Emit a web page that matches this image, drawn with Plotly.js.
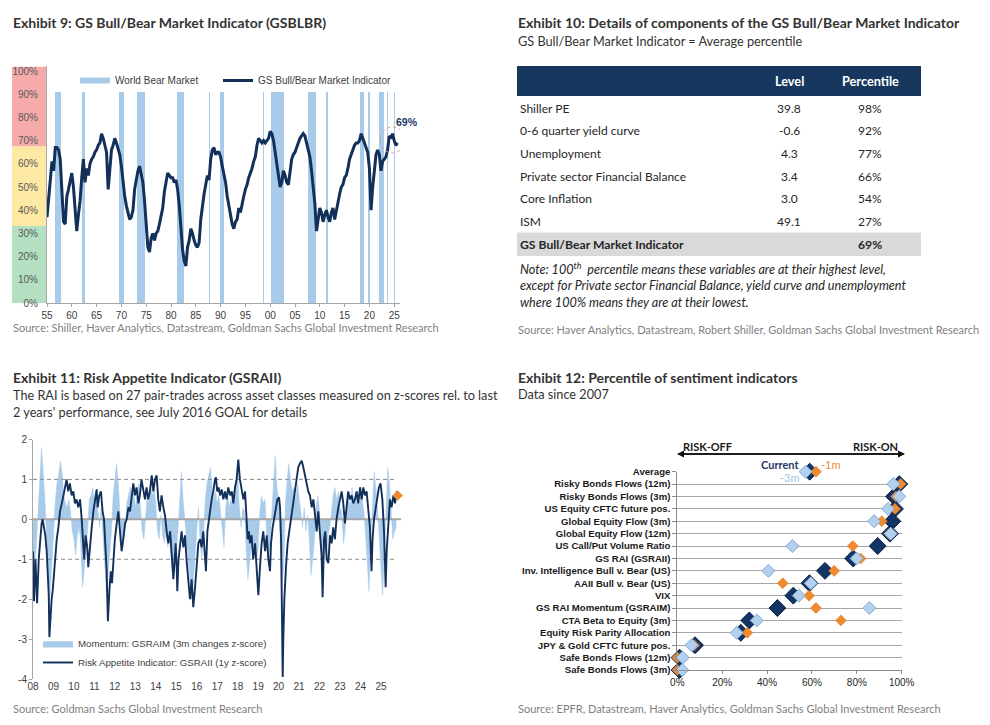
<!DOCTYPE html>
<html><head><meta charset="utf-8">
<script src="https://cdn.plot.ly/plotly-3.0.1.min.js"></script>
<style>html,body{margin:0;padding:0;background:#fff}#chart{width:990px;height:725px}</style>
</head><body><div id="chart"></div>
<script>
// ---------------- Exhibit 9 data ----------------
const bbStartYear = 1955;          // first observation
const bbStepPerYear = 3;           // one observation every 4 months
const bbValues = [
37,46,52,61,57,67,67,66,62,50,
35,34,46,49,52,56,50,38,31,38,
44,54,62,52,58,55,60,62,63,65,
66,68,69,73,71,68,65,49,60,66,
68,71,69,66,64,59,52,46,42,39,
36,37,40,49,54,57,59,56,52,44,
34,24,22,28,30,27,30,31,34,37,
41,48,53,56,55,54,54,52,53,49,
42,32,23,18,16,24,27,32,30,27,
25,24,26,36,43,47,51,55,53,62,
66,67,64,65,65,63,59,55,52,46,
42,37,34,32,35,36,41,39,43,46,
49,51,54,56,58,61,63,68,71,70,
69,70,69,70,71,74,73,70,65,58,
54,50,52,57,55,52,51,57,62,64,
65,67,69,71,72,73,72,69,67,63,
57,50,43,31,36,41,39,35,38,40,
37,35,39,41,36,40,44,47,50,51,
54,55,58,62,64,66,68,69,69,70,
73,71,69,67,65,58,40,50,57,64,
66,64,57,61,62,63,66,72,71,73,
70,68,69];
const bearStart = [1956.6,1962.0,1969.5,1973.2,1981.3,1987.7,1989.9,1998.5,2000.1,2007.7,2011.25,2018.05,2019.8,2021.9,2023.5,2024.9];
const bearEnd   = [1957.9,1962.6,1970.5,1974.8,1982.7,1987.9,1990.7,1998.8,2002.8,2009.3,2011.65,2019.0,2020.2,2022.9,2023.8,2025.2];
const bbTickYears = [1955,1960,1965,1970,1975,1980,1985,1990,1995,2000,2005,2010,2015,2020,2025];
const bbTickText  = ['55','60','65','70','75','80','85','90','95','00','05','10','15','20','25'];
const bbYTicks = [0,10,20,30,40,50,60,70,80,90,100];
const zoneLow  = [0, 33.2, 67.6];
const zoneHigh = [33.2, 67.6, 102];
const bbCurrent = 69;

// ---------------- Exhibit 10 data ----------------
const tblNames  = ['Shiller PE','0-6 quarter yield curve','Unemployment','Private sector Financial Balance','Core Inflation','ISM'];
const tblLevels = ['39.8','-0.6','4.3','3.4','3.0','49.1'];
const tblPct    = ['98%','92%','77%','66%','54%','27%'];
const tblTotalName = 'GS Bull/Bear Market Indicator';
const tblTotalPct  = '69%';

// ---------------- Exhibit 11 data ----------------
const raiYears = [
2008.00,2008.05,2008.12,2008.20,2008.28,2008.35,2008.42,2008.47,2008.54,2008.60,
2008.67,2008.72,2008.77,2008.80,2008.84,2008.91,2008.96,2009.04,2009.16,2009.24,
2009.32,2009.45,2009.56,2009.64,2009.72,2009.80,2009.89,2009.97,2010.05,2010.13,
2010.21,2010.30,2010.38,2010.46,2010.50,2010.57,2010.65,2010.70,2010.78,2010.87,
2010.95,2011.03,2011.11,2011.16,2011.24,2011.32,2011.40,2011.47,2011.53,2011.60,
2011.63,2011.66,2011.73,2011.80,2011.86,2011.93,2012.00,2012.09,2012.17,2012.25,
2012.33,2012.41,2012.50,2012.58,2012.66,2012.74,2012.82,2012.90,2012.98,2013.06,
2013.15,2013.22,2013.30,2013.39,2013.47,2013.55,2013.63,2013.71,2013.80,2013.88,
2013.96,2014.04,2014.12,2014.20,2014.28,2014.37,2014.45,2014.53,2014.61,2014.70,
2014.78,2014.86,2014.91,2014.97,2015.02,2015.05,2015.11,2015.18,2015.26,2015.35,
2015.43,2015.50,2015.60,2015.67,2015.75,2015.83,2015.92,2016.00,2016.08,2016.16,
2016.24,2016.32,2016.40,2016.45,2016.52,2016.58,2016.65,2016.73,2016.81,2016.89,
2016.94,2017.00,2017.07,2017.14,2017.22,2017.30,2017.38,2017.46,2017.54,2017.63,
2017.71,2017.79,2017.87,2017.95,2018.03,2018.11,2018.19,2018.28,2018.36,2018.44,
2018.49,2018.55,2018.60,2018.68,2018.76,2018.85,2018.93,2019.01,2019.09,2019.17,
2019.25,2019.34,2019.42,2019.50,2019.58,2019.63,2019.71,2019.78,2019.86,2019.94,
2020.02,2020.07,2020.12,2020.17,2020.20,2020.23,2020.28,2020.36,2020.44,2020.52,
2020.60,2020.68,2020.77,2020.88,2020.96,2021.04,2021.13,2021.21,2021.29,2021.37,
2021.45,2021.53,2021.62,2021.70,2021.78,2021.86,2021.94,2022.02,2022.10,2022.15,
2022.22,2022.28,2022.35,2022.43,2022.51,2022.59,2022.67,2022.75,2022.83,2022.92,
2023.00,2023.08,2023.16,2023.24,2023.32,2023.40,2023.49,2023.57,2023.65,2023.73,
2023.81,2023.89,2023.98,2024.06,2024.14,2024.22,2024.30,2024.38,2024.46,2024.54,
2024.59,2024.66,2024.74,2024.82,2024.90,2024.98,2025.07,2025.15,2025.20,2025.23,
2025.28,2025.33,2025.40,2025.44,2025.52,2025.61,2025.69,2025.77,2025.82];
const raiValues = [
-0.8,-2.05,-1.0,-2.1,-1.0,-0.5,-0.1,0.0,-0.2,-0.4,
-0.8,-1.4,-1.9,-2.95,-2.5,-2.0,-1.8,-1.2,-0.5,-0.2,
0.2,0.5,0.8,1.0,0.7,0.9,0.6,0.7,0.4,0.5,
0.3,0.5,0.0,-0.8,-1.0,-0.4,-0.7,-1.2,-0.6,-0.2,
0.2,0.5,0.75,0.3,0.6,0.7,0.2,0.0,-0.5,-1.3,
-2.0,-2.55,-1.8,-1.3,-1.6,-0.9,-0.5,-0.1,0.2,-0.3,
-0.8,-0.5,-0.1,0.0,0.3,0.2,0.6,0.9,0.6,0.8,
0.4,0.6,1.0,0.7,0.5,0.8,0.5,0.7,1.1,0.7,
1.0,1.1,0.5,0.2,0.6,0.3,0.1,-0.3,-0.6,-0.3,
-0.8,-1.5,-1.1,-0.6,-1.2,-1.8,-1.0,-0.6,-0.3,-0.7,
-0.4,-1.0,-1.6,-2.0,-1.5,-2.2,-1.7,-1.2,-0.6,-0.5,
-0.7,-0.3,-1.0,-1.3,-0.3,0.0,0.2,0.5,0.7,1.0,
1.05,0.7,0.8,0.6,0.75,0.5,0.7,0.5,0.8,0.6,
0.7,0.4,0.8,1.0,1.5,1.0,0.7,0.5,0.7,-0.2,
-0.5,-0.3,-0.6,-0.4,-1.0,-0.6,-1.4,-1.9,-1.2,-0.6,
-0.3,-0.8,-0.4,-1.0,-1.3,-0.6,-0.2,0.0,0.3,0.5,
0.55,0.3,-0.5,-2.0,-3.95,-3.0,-2.0,-1.2,-0.6,-0.3,
0.0,0.2,0.5,1.0,1.3,1.4,1.47,1.3,1.1,0.9,
0.7,0.6,0.3,0.5,0.0,-0.3,0.2,-0.5,-0.9,-1.95,
-0.5,-0.3,-1.0,-1.1,-0.4,-0.6,-0.2,-0.5,0.0,0.3,
0.5,0.7,0.4,-0.1,0.3,0.7,0.5,0.6,0.4,0.5,
0.7,0.4,0.8,0.5,0.8,0.6,0.7,0.3,-0.2,-1.3,
-0.5,0.0,0.3,0.5,0.8,0.9,0.5,-0.3,-1.0,-1.7,
-0.8,-0.3,0.1,0.5,0.3,0.6,0.4,0.7,0.6];
const momStartYear = 2008;   // monthly observations from Jan 2008
const momValues = [
-0.8,-1.2,-0.6,0.4,1.0,1.8,1.2,0.5,-0.6,-1.3,-1.9,-1.2,
-0.3,0.4,0.9,1.1,1.45,1.2,0.6,0.4,0.3,0.5,0.2,-0.3,
-0.5,-0.9,-0.4,-0.2,-0.6,-1.7,-1.3,-0.8,-0.3,0.5,0.6,0.8,
0.5,0.7,0.2,-0.2,0.3,-0.4,-0.8,-1.8,-1.4,-0.8,-0.3,0.6,
1.0,1.4,0.9,0.2,-0.6,-0.5,-0.2,0.4,0.6,0.8,0.5,0.7,
0.3,0.6,0.9,0.3,-0.3,-0.5,0.2,0.6,0.4,0.8,0.6,0.8,
0.4,-0.3,-0.5,0.1,-0.4,-0.6,-0.3,-0.7,-0.5,-1.0,-1.5,-1.2,
-0.9,-0.3,0.6,1.2,0.5,0.0,-0.6,-1.2,-1.5,-2.0,-1.6,-0.8,
-0.3,0.3,-0.6,-1.0,-0.4,0.5,0.9,1.1,1.3,0.8,0.5,0.7,
0.4,0.6,0.2,-0.3,-0.7,0.3,0.6,0.3,0.5,0.4,0.8,1.0,
1.1,0.3,-0.2,0.3,0.2,-0.8,-1.5,-1.1,-0.6,-0.9,-0.6,-1.0,
-0.7,0.2,0.6,0.4,0.5,-0.4,-1.0,-0.6,0.3,0.9,1.6,0.8,
0.5,-0.8,-1.6,-1.2,0.4,1.0,1.4,1.0,0.7,0.8,0.5,0.9,
0.6,0.2,-0.2,0.3,-0.3,0.1,-0.5,-1.4,-1.0,-0.5,0.3,0.6,
0.2,-0.8,-1.1,-0.7,-0.9,-0.4,-0.2,0.3,0.6,0.8,0.5,0.7,
0.3,0.2,-0.6,-0.3,0.4,0.6,0.3,0.8,0.5,0.4,0.7,0.3,
0.6,0.5,0.2,-0.4,-1.2,-1.8,-0.6,0.5,1.2,0.8,0.3,-0.5,
-1.1,-1.9,-0.9,0.4,1.3,0.9,0.3,-0.5,-0.3,-0.2];
const raiTickYears = [2008,2009,2010,2011,2012,2013,2014,2015,2016,2017,2018,2019,2020,2021,2022,2023,2024,2025];
const raiTickText  = ['08','09','10','11','12','13','14','15','16','17','18','19','20','21','22','23','24','25'];
const raiYTicks = [-4,-3,-2,-1,0,1,2];
const raiYText  = ['-4','-3','-2','-1','0','1','2'];

// ---------------- Exhibit 12 data ----------------
const sentCats = ['Average','Risky Bonds Flows (12m)','Risky Bonds Flows (3m)','US Equity CFTC future pos.',
  'Global Equity Flow (3m)','Global Equity Flow (12m)','US Call/Put Volume Ratio','GS RAI (GSRAII)',
  'Inv. Intelligence Bull v. Bear (US)','AAII Bull v. Bear (US)','VIX','GS RAI Momentum (GSRAIM)',
  'CTA Beta to Equity (3m)','Equity Risk Parity Allocation','JPY & Gold CFTC future pos.',
  'Safe Bonds Flows (12m)','Safe Bonds Flows (3m)'];
const sentCurrent = [59,98.9,96.6,97,95.8,94.8,89.3,78.4,65.8,58.9,51.7,44.6,32.1,28.3,7.9,1,1];
const sent1m      = [61.8,99.5,97.5,97,91.1,94.5,78.2,81.7,69.9,47,58.7,61.8,72.9,31.2,7.5,0,0];
const sent3m      = [57.2,96.3,98.9,93.9,87.7,95.1,51.3,79.9,40.6,59.5,54.2,85.6,35.4,26.5,6.4,2.4,2.2];
const sentTicks = [0,20,40,60,80,100];

// ---------------- helpers & styles ----------------
const W = 990, H = 725;
const px = x => x / W, py = y => 1 - y / H;
const AX = 'Liberation Sans, Arial, sans-serif';
const TX = 'Lato, sans-serif';
const NAVY = '#13305b', LBLUE = '#a9cbea', ORANGE = '#ef8a2e';

const bbYears = bbValues.map((v, i) => bbStartYear + i / bbStepPerYear);
const momYears = momValues.map((v, i) => momStartYear + i / 12);
const nCat = sentCats.length;
const catPos = sentCats.map((c, i) => nCat - 1 - i);
const raiXMax = 2025.98;
const pctText = a => a.map(v => v + '%');

const traces = [];
// Exhibit 9
traces.push({type:'bar', x: bearStart.map((s,i)=>(s+bearEnd[i])/2), width: bearStart.map((s,i)=>bearEnd[i]-s),
  y: bearStart.map(()=>91), base: 0, marker:{color:LBLUE, line:{width:0}}, xaxis:'x', yaxis:'y',
  showlegend:false, hoverinfo:'skip'});
traces.push({type:'scatter', mode:'lines', x:[null], y:[null], name:'World Bear Market',
  line:{color:LBLUE, width:6}, legend:'legend', xaxis:'x', yaxis:'y'});
traces.push({type:'scatter', mode:'lines', x: bbYears, y: bbValues, name:'GS Bull/Bear Market Indicator',
  line:{color:NAVY, width:3}, legend:'legend3', xaxis:'x', yaxis:'y'});
// Exhibit 11
traces.push({type:'scatter', mode:'lines', x: momYears, y: momValues, fill:'tozeroy', fillcolor:LBLUE,
  line:{color:LBLUE, width:0.5}, name:'Momentum: GSRAIM (3m changes z-score)', legend:'legend2', xaxis:'x2', yaxis:'y2'});
traces.push({type:'scatter', mode:'lines', x:[2008, raiXMax], y:[0,0], line:{color:'#a6a6a6', width:2},
  showlegend:false, hoverinfo:'skip', xaxis:'x2', yaxis:'y2', cliponaxis:false});
[1,-1].forEach(v => traces.push({type:'scatter', mode:'lines', x:[2008, 2025.7], y:[v,v],
  line:{color:'#8c8c8c', width:1, dash:'4px,3px'}, showlegend:false, hoverinfo:'skip', xaxis:'x2', yaxis:'y2'}));
traces.push({type:'scatter', mode:'lines', x: raiYears, y: raiValues, name:'Risk Appetite Indicator: GSRAII (1y z-score)',
  line:{color:NAVY, width:1.9}, legend:'legend2', xaxis:'x2', yaxis:'y2'});
traces.push({type:'scatter', mode:'markers', x:[raiYears[raiYears.length-1]], y:[raiValues[raiValues.length-1]],
  marker:{symbol:'diamond', size:8, color:ORANGE}, showlegend:false, cliponaxis:false, xaxis:'x2', yaxis:'y2'});
// Exhibit 12
traces.push({type:'scatter', mode:'markers', x: sentCurrent, y: catPos, name:'Current',
  marker:{symbol:'diamond', size:13, color:'#123466', line:{color:'#0b1f3f', width:1}}, showlegend:false, cliponaxis:false, xaxis:'x3', yaxis:'y3'});
traces.push({type:'scatter', mode:'markers', x: sent1m, y: catPos, name:'-1m',
  marker:{symbol:'diamond', size:8.5, color:ORANGE, line:{color:'#e07a1f', width:0.5}}, showlegend:false, cliponaxis:false, xaxis:'x3', yaxis:'y3'});
traces.push({type:'scatter', mode:'markers', x: sent3m, y: catPos, name:'-3m',
  marker:{symbol:'diamond', size:10, color:'#b3d1ee', line:{color:'#86a9d0', width:1}}, showlegend:false, cliponaxis:false, xaxis:'x3', yaxis:'y3'});

// ---------------- shapes ----------------
const shapes = [];
const zoneColors = ['#b4e0c2','#fde8a4','#f6abab'];
zoneLow.forEach((lo,i) => shapes.push({type:'rect', xref:'paper', yref:'y', x0:px(12), x1:px(47), y0:lo, y1:zoneHigh[i],
  fillcolor:zoneColors[i], line:{width:0}, layer:'below'}));
shapes.push({type:'circle', xref:'x', yref:'y', x0: bbYears[bbYears.length-1]-3.5, x1: bbYears[bbYears.length-1]+1.5,
  y0: bbCurrent-4.3, y1: bbCurrent+6.9, line:{color:'#d99a9a', width:1, dash:'dot'}});
// table
shapes.push({type:'rect', xref:'paper', yref:'paper', x0:px(517), x1:px(921), y0:py(96), y1:py(66), fillcolor:'#17375e', line:{width:0}});
shapes.push({type:'rect', xref:'paper', yref:'paper', x0:px(517), x1:px(921), y0:py(256), y1:py(232.5), fillcolor:'#d9d9d9', line:{width:0}});

// ---------------- annotations ----------------
const ann = [];
function txt(t, x, y, o) {
  o = o || {};
  ann.push({text:t, x:px(x), y:py(y), xref:'paper', yref:'paper', showarrow:false,
    xanchor:o.xa||'left', yanchor:'middle', align:o.xa||'left',
    font:{family:o.family||TX, size:o.size||12, color:o.color||'#333333', weight:o.weight||'normal', style:o.style||'normal'}});
}
// titles
txt('Exhibit 9: GS Bull/Bear Market Indicator (GSBLBR)', 11, 23, {size:14, weight:'bold', color:'#333'});
txt('Exhibit 10: Details of components of the GS Bull/Bear Market Indicator', 516, 23, {size:14, weight:'bold', color:'#333'});
txt('GS Bull/Bear Market Indicator = Average percentile', 516, 41, {size:12.7});
txt('Exhibit 11: Risk Appetite Indicator (GSRAII)', 11, 378, {size:14, weight:'bold'});
txt('The RAI is based on 27 pair-trades across asset classes measured on z-scores rel. to last<br>2 years\' performance, see July 2016 GOAL for details', 11, 403.5, {size:12.7});
txt('Exhibit 12: Percentile of sentiment indicators', 516, 377, {size:14, weight:'bold'});
txt('Data since 2007', 516, 394, {size:12.7});
// sources
txt('Source: Shiller, Haver Analytics, Datastream, Goldman Sachs Global Investment Research', 11, 328, {size:11, color:'#7f7f7f'});
txt('Source: Haver Analytics, Datastream, Robert Shiller, Goldman Sachs Global Investment Research', 516, 329, {size:11, color:'#7f7f7f'});
txt('Source: Goldman Sachs Global Investment Research', 11, 708, {size:11, color:'#7f7f7f'});
txt('Source: EPFR, Datastream, Haver Analytics, Goldman Sachs Global Investment Research', 516, 708, {size:11, color:'#7f7f7f'});
// exhibit 9 label
txt(bbCurrent + '%', 407, 122, {xa:'center', family:AX, size:10.5, weight:'bold', color:'#1f3864'});
// table
txt('Level', 789, 81, {xa:'center', size:12.7, weight:'bold', color:'#ffffff'});
txt('Percentile', 870, 81, {xa:'center', size:12.7, weight:'bold', color:'#ffffff'});
const rowY0 = 108.3, rowDy = 22.67;
tblNames.forEach((n,i) => {
  const y = rowY0 + i*rowDy;
  txt(n, 518, y, {size:12, color:'#262626'});
  txt(tblLevels[i], 789, y, {xa:'center', size:12, color:'#262626'});
  txt(tblPct[i], 870, y, {xa:'center', size:12, color:'#262626'});
});
txt(tblTotalName, 518, rowY0 + tblNames.length*rowDy, {size:12.2, weight:'bold', color:'#262626'});
txt(tblTotalPct, 870, rowY0 + tblNames.length*rowDy, {xa:'center', size:12.2, weight:'bold', color:'#262626'});
txt('Note: 100<sup>th</sup>  percentile means these variables are at their highest level,', 518, 268, {size:12.6, style:'italic', color:'#262626'});
txt('except for Private sector Financial Balance, yield curve and unemployment', 518, 285, {size:12.6, style:'italic', color:'#262626'});
txt('where 100% means they are at their lowest.', 518, 302, {size:12.6, style:'italic', color:'#262626'});
// exhibit 12 labels
txt('RISK-OFF', 707.5, 446, {xa:'center', size:11, weight:'bold', color:'#1a1a1a'});
txt('RISK-ON', 875.5, 446, {xa:'center', size:11, weight:'bold', color:'#1a1a1a'});
txt('Current', 780, 464.5, {xa:'center', size:11, weight:'bold', color:'#1f3864'});
txt('-1m', 831, 464.5, {xa:'center', size:11, color:ORANGE});
txt('-3m', 790, 477.5, {xa:'center', size:11, color:'#9dc3e6'});
ann.push({text:'', x:px(677), y:py(454), xref:'paper', yref:'paper', showarrow:true, ax:228, ay:0,
  arrowhead:2, arrowsize:1, arrowwidth:1.4, arrowcolor:'#111'});
ann.push({text:'', x:px(905), y:py(454), xref:'paper', yref:'paper', showarrow:true, ax:-228, ay:0,
  arrowhead:2, arrowsize:1, arrowwidth:1.4, arrowcolor:'#111'});

const tickFont = {family:AX, size:10, color:'#404040'};
const legFont = {family:AX, size:10, color:'#404040'};
const layout = {
  width: W, height: H, margin:{l:0,r:0,t:0,b:0}, paper_bgcolor:'#ffffff', plot_bgcolor:'rgba(0,0,0,0)',
  showlegend: true, bargap: 0, hovermode:false,
  xaxis: {domain:[px(47), px(400)], range:[1955, 2026.17], anchor:'y', tickvals: bbTickYears, ticktext: bbTickText,
    showline:true, linecolor:'#a6a6a6', ticks:'outside', ticklen:3, tickcolor:'#a6a6a6', tickfont:tickFont,
    showgrid:false, zeroline:false, fixedrange:true},
  yaxis: {domain:[py(303), py(66.4)], range:[0, 102], anchor:'x', tickvals: bbYTicks, ticktext: pctText(bbYTicks),
    showline:true, linecolor:'#a6a6a6', ticks:'outside', ticklen:6, tickcolor:'rgba(0,0,0,0)', tickfont:{family:AX,size:10,color:'#595959'},
    showgrid:false, zeroline:false, fixedrange:true},
  xaxis2: {domain:[px(33), px(401)], range:[2008, raiXMax], anchor:'y2', tickvals: raiTickYears, ticktext: raiTickText,
    showline:false, ticks:'', tickfont:tickFont, showgrid:false, zeroline:false, fixedrange:true},
  yaxis2: {domain:[py(679), py(439.5)], range:[-4, 2], anchor:'x2', tickvals: raiYTicks, ticktext: raiYText,
    showline:true, linecolor:'#a6a6a6', ticks:'outside', ticklen:3, tickcolor:'#a6a6a6', tickfont:tickFont,
    showgrid:false, zeroline:false, fixedrange:true},
  xaxis3: {domain:[px(677.3), px(901.7)], range:[0, 100], anchor:'y3', tickvals: sentTicks, ticktext: pctText(sentTicks),
    showline:true, linecolor:'#8c8c8c', ticks:'outside', ticklen:3, tickcolor:'#8c8c8c', tickfont:{family:AX,size:10,color:'#262626'},
    showgrid:false, zeroline:false, fixedrange:true},
  yaxis3: {domain:[py(670), py(471.7)], range:[0, nCat-1], anchor:'x3', tickvals: catPos, ticktext: sentCats,
    showline:true, linecolor:'#8c8c8c', ticks:'outside', ticklen:4, tickcolor:'#8c8c8c',
    tickfont:{family:AX, size:9.6, color:'#1a1a1a', weight:'bold'},
    showgrid:true, gridcolor:'#a6a6a6', gridwidth:1, zeroline:false, fixedrange:true},
  legend: {orientation:'h', x:px(75), y:py(66), xanchor:'left', yanchor:'top', bgcolor:'rgba(0,0,0,0)',
    font:legFont, itemwidth:30, itemclick:false, itemdoubleclick:false},
  legend3: {orientation:'h', x:px(218), y:py(66), xanchor:'left', yanchor:'top', bgcolor:'rgba(0,0,0,0)',
    font:legFont, itemwidth:30, itemclick:false, itemdoubleclick:false},
  legend2: {orientation:'v', x:px(38), y:py(629), xanchor:'left', yanchor:'top', bgcolor:'rgba(0,0,0,0)',
    font:{family:AX, size:9.7, color:'#404040'}, itemwidth:30, tracegroupgap:0, traceorder:'normal',
    itemclick:false, itemdoubleclick:false},
  shapes: shapes, annotations: ann
};
Plotly.newPlot('chart', traces, layout, {displayModeBar:false, staticPlot:true});
</script></body></html>
